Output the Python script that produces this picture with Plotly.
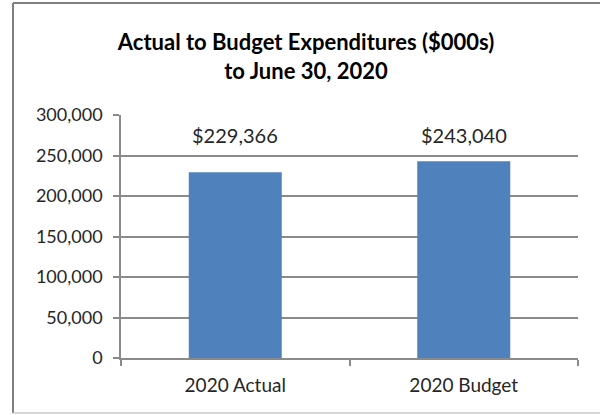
import plotly.graph_objects as go

categories = ["2020 Actual", "2020 Budget"]
values = [229366, 243040]
labels = ["$229,366", "$243,040"]
y_ticks = [0, 50000, 100000, 150000, 200000, 250000, 300000]
title_lines = ["Actual to Budget Expenditures ($000s)", "to June 30, 2020"]

W, H = 600, 415
L, R, T, B = 121, 22, 115, 57
pw, ph = W - L - R, H - T - B

def px(x):
    return (x - L) / pw

def py(y):
    return (H - B - y) / ph

FONT = "Lato"
TXT = "#262626"
GRID = "#8a8a8a"

fig = go.Figure()
fig.add_trace(go.Bar(
    x=categories, y=values,
    marker=dict(color="#4F81BD", line=dict(width=0)),
    width=0.407,
    hoverinfo="skip",
))

label_y = max(values) + 32000
for c, t in zip(categories, labels):
    fig.add_annotation(x=c, y=label_y, text=t, showarrow=False,
                       xanchor="center", yanchor="middle",
                       font=dict(family=FONT, size=20, color=TXT))

shapes = [
    dict(type="line", xref="paper", yref="paper", x0=px(13), x1=px(600), y0=py(3), y1=py(3),
         line=dict(color="#7f7f7f", width=2)),
    dict(type="line", xref="paper", yref="paper", x0=px(13), x1=px(13), y0=py(3), y1=py(413),
         line=dict(color="#7f7f7f", width=2)),
    dict(type="line", xref="paper", yref="paper", x0=px(13), x1=px(600), y0=py(413), y1=py(413),
         line=dict(color="#c8c8c8", width=1.5)),
]

fig.update_layout(
    width=W, height=H,
    margin=dict(l=L, r=R, t=T, b=B, pad=0),
    paper_bgcolor="white", plot_bgcolor="white",
    showlegend=False,
    shapes=shapes,
    title=dict(
        text="<b>" + "<br>".join(title_lines) + "</b>",
        x=306 / W, xref="container", xanchor="center",
        y=1 - 50 / H, yref="container", yanchor="middle",
        font=dict(family=FONT, size=22, color="#000000"),
    ),
    xaxis=dict(
        type="category",
        showline=True, linecolor=GRID, linewidth=1.5,
        ticks="outside", tickson="boundaries", ticklen=6, tickcolor=GRID, tickwidth=1.5,
        tickfont=dict(family=FONT, size=19, color=TXT),
        ticklabelstandoff=9,
        showgrid=False,
    ),
    yaxis=dict(
        range=[0, 300000], tickvals=y_ticks, tickformat=",",
        showline=True, linecolor=GRID, linewidth=1.5,
        ticks="outside", ticklen=6, tickcolor=GRID, tickwidth=1.5,
        showgrid=True, gridcolor=GRID, gridwidth=1.5,
        zeroline=False,
        ticklabelstandoff=7,
        tickfont=dict(family=FONT, size=18, color=TXT),
    ),
)

fig.write_html("out.html")
